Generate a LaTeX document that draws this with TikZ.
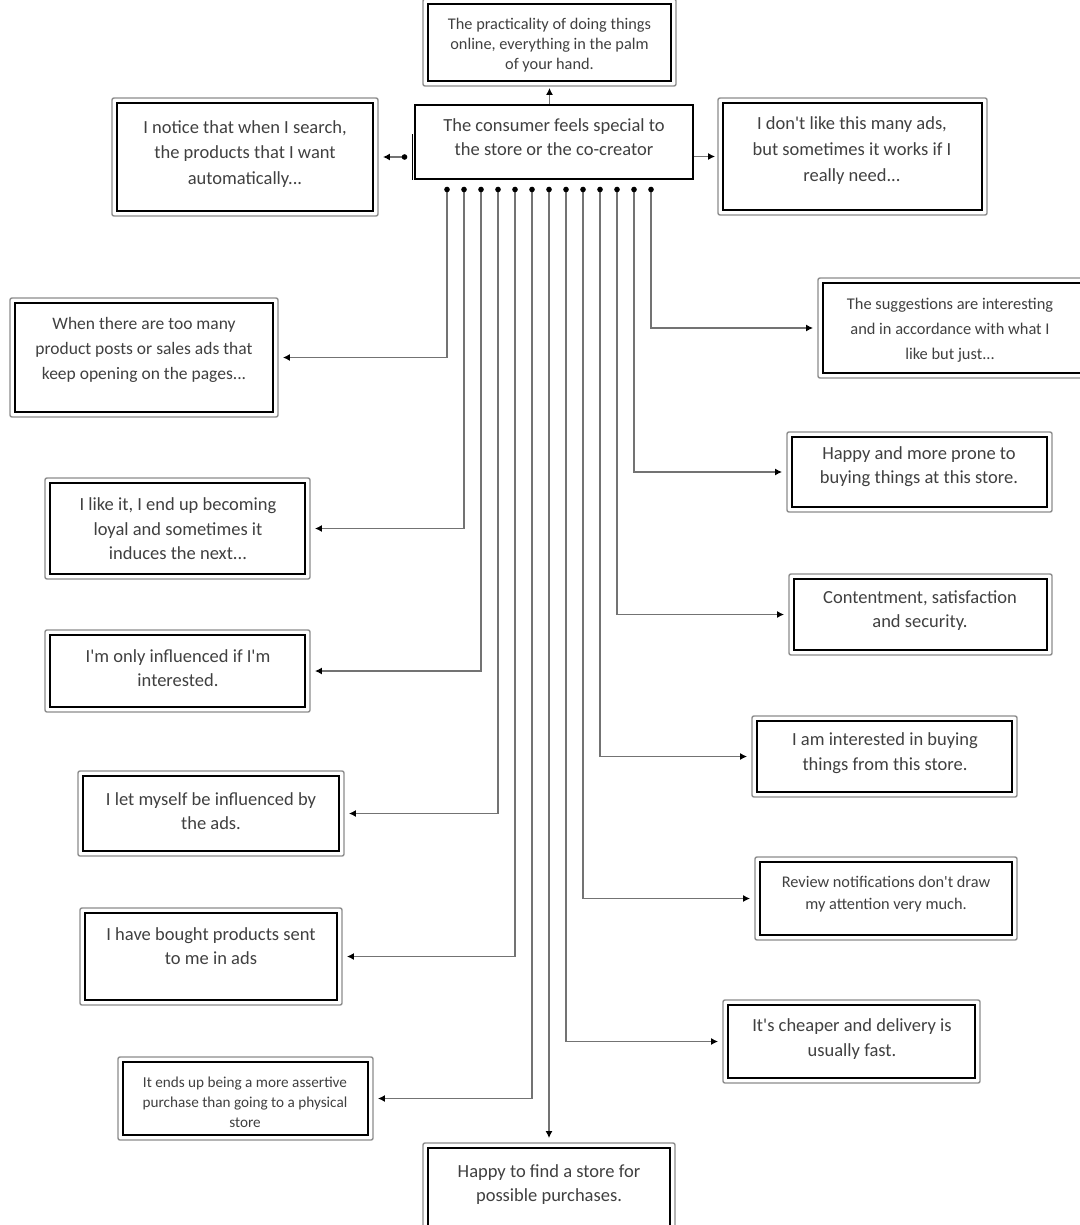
\documentclass[tikz,border=0pt]{standalone}
\usepackage{fontspec}
\setmainfont{Carlito}
\usetikzlibrary{arrows.meta,fit,calc}
\tikzset{
  inbox/.style={draw=black, line width=1.8pt, inner sep=0pt, fill=white},
  outline/.style={draw=black!45, line width=1.4pt, rounded corners=2pt},
  txt/.style={align=center, text=black!75, inner sep=0pt},
  tipend/.tip={Latex[length=7pt,width=7pt,color=black]},
  tipdot/.tip={Circle[length=5.5pt,color=black]},
  conn/.style={draw=black!55, line width=1.5pt, -tipend},
  dotconn/.style={draw=black!55, line width=1.5pt, tipdot-tipend, shorten <=7pt, shorten >=9pt},
}
\newcommand\dbox[5]{%
  \draw[outline] (#2,#3) rectangle (#4,#5);
  \node[inbox, fit={(#2+5,#3+5) (#4-5,#5-5)}] (#1) {};
}
\newcommand\ap{\textquotesingle}
\begin{document}
\begin{tikzpicture}[x=1pt,y=-1pt]
\useasboundingbox[fill=white] (0,0) rectangle (1079,1225);

% boxes
\dbox{top}{423}{-1}{676}{86}
\node[txt, font=\fontsize{16.3}{20}\selectfont] (topt) at (549.5,45) {The practicality of doing things\\online, everything in the palm\\of your hand.};

\node[draw=black, line width=1.5pt, inner sep=0pt, fill=white, fit={(415,105) (693,179)}] (c) {};
\node[txt, font=\fontsize{18.5}{24}\selectfont] (ct) at (554,137) {The consumer feels special to\\the store or the co-creator};
\draw[line width=1.5pt] ($(c.south west)+(-2,0)$) -- ++(0,-46);

\dbox{notice}{112}{98}{378}{216}
\node[txt, font=\fontsize{18.5}{25.5}\selectfont] (noticet) at (245,154) {I notice that when I search,\\the products that I want\\automatically...};

\dbox{dislike}{718}{98}{987}{215}
\node[txt, font=\fontsize{18.5}{26}\selectfont] (dislt) at (852,151) {I don\ap t like this many ads,\\but sometimes it works if I\\really need...};

\dbox{when}{10}{298}{278}{417}
\node[txt, font=\fontsize{17.5}{25}\selectfont] (whent) at (144,350) {When there are too many\\product posts or sales ads that\\keep opening on the pages...};

\dbox{sugg}{818}{278}{1086}{378}
\node[txt, font=\fontsize{16.4}{25}\selectfont] (suggt) at (950,330) {The suggestions are interesting\\and in accordance with what I\\like but just...};

\dbox{happymore}{787}{432}{1052}{512}
\node[txt, font=\fontsize{18.5}{24}\selectfont] (happymoret) at (919,467) {Happy and more prone to\\buying things at this store.};

\dbox{content}{789}{574}{1052}{655}
\node[txt, font=\fontsize{18.5}{24}\selectfont] (contentt) at (920,611) {Contentment, satisfaction\\and security.};

\dbox{interest}{752}{716}{1017}{797}
\node[txt, font=\fontsize{18.5}{25}\selectfont] (interestt) at (885,753.5) {I am interested in buying\\things from this store.};

\dbox{review}{755}{857}{1017}{940}
\node[txt, font=\fontsize{16.3}{22}\selectfont] (reviewt) at (886,894) {Review notifications don\ap t draw\\my attention very much.};

\dbox{cheap}{723}{1000}{980}{1083}
\node[txt, font=\fontsize{18.5}{25}\selectfont] (cheapt) at (852,1039.5) {It\ap s cheaper and delivery is\\usually fast.};

\dbox{happyfind}{423}{1143}{675}{1234}
\node[txt, font=\fontsize{18.5}{24}\selectfont] (happyfindt) at (549,1185) {Happy to find a store for\\possible purchases.};

\dbox{like}{45}{478}{310}{579}
\node[txt, font=\fontsize{18.5}{24.5}\selectfont] (liket) at (178,529) {I like it, I end up becoming\\loyal and sometimes it\\induces the next...};

\dbox{only}{45}{630}{310}{712}
\node[txt, font=\fontsize{18.5}{24}\selectfont] (onlyt) at (178,668) {I\ap m only influenced if I\ap m\\interested.};

\dbox{letme}{78}{771}{344}{856}
\node[txt, font=\fontsize{18.5}{24}\selectfont] (letmet) at (211,811) {I let myself be influenced by\\the ads.};

\dbox{bought}{80}{908}{342}{1005}
\node[txt, font=\fontsize{18.5}{24}\selectfont] (boughtt) at (211,946) {I have bought products sent\\to me in ads};

\dbox{assert}{118}{1057}{373}{1140}
\node[txt, font=\fontsize{15.2}{20}\selectfont] (assertt) at (245,1102) {It ends up being a more assertive\\purchase than going to a physical\\store};

% connectors from central box
\draw[conn, shorten >=6pt] (c.north -| top.south) -- (top.south);
\draw[dotconn] (c.west |- notice.east) -- (notice.east);
\draw[conn, shorten >=7pt] (c.east |- dislike.west) -- (dislike.west);

\foreach \i/\dx in {1/-107,2/-90,3/-73,4/-56,5/-39,6/-22,7/-5,8/12,9/29,10/46,11/63,12/80,13/97}{
  \coordinate (b\i) at ($(c.south)+(\dx,0)$);
}
\draw[dotconn] (b1) |- (when.east);
\draw[dotconn] (b2) |- (like.east);
\draw[dotconn] (b3) |- (only.east);
\draw[dotconn] (b4) |- (letme.east);
\draw[dotconn] (b5) |- (bought.east);
\draw[dotconn] (b6) |- (assert.east);
\draw[dotconn] (b7) -- (b7 |- happyfind.north);
\draw[dotconn] (b8) |- (cheap.west);
\draw[dotconn] (b9) |- (review.west);
\draw[dotconn] (b10) |- (interest.west);
\draw[dotconn] (b11) |- (content.west);
\draw[dotconn] (b12) |- (happymore.west);
\draw[dotconn] (b13) |- (sugg.west);
\end{tikzpicture}
\end{document}
